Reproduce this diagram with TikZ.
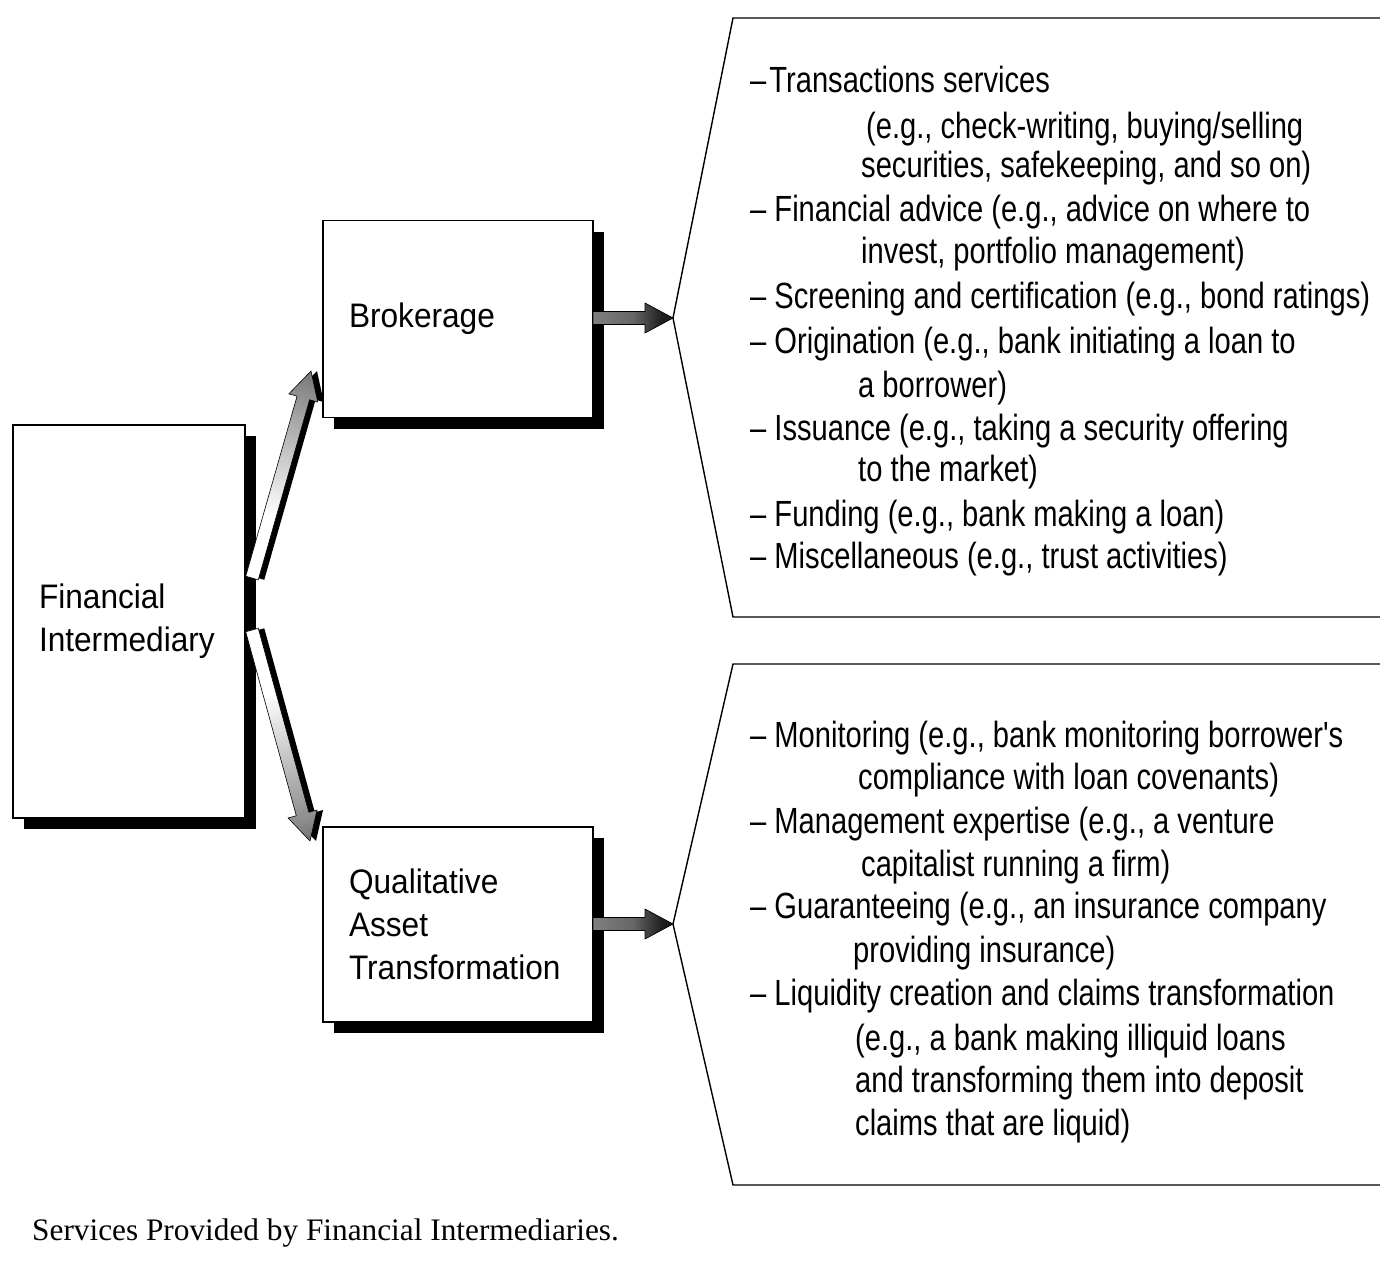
\documentclass[tikz,border=0pt]{standalone}
\usepackage{fontspec}
\setmainfont{Liberation Serif}
\newfontfamily\listfont{Liberation Sans}[FakeStretch=0.8]
\newfontfamily\boxfont{Liberation Sans}[FakeStretch=0.93]
\usetikzlibrary{shadows}

% shadings for the fat arrows
\pgfdeclarehorizontalshading{fadearrow}{100bp}{color(0bp)=(white); color(40bp)=(white); color(70bp)=(black!45); color(85bp)=(black!75); color(100bp)=(black!85)}
\pgfdeclarehorizontalshading{greyarrow}{100bp}{color(0bp)=(black!40); color(50bp)=(black!60); color(68bp)=(black!88); color(100bp)=(black!95)}

% fat arrow from #1 to #2, shading #3, shadow xshift #4
\newcommand{\fatarrow}[4]{%
  \pgfpointdiff{\pgfpointanchor{#1}{center}}{\pgfpointanchor{#2}{center}}%
  \pgfgetlastxy{\arrdx}{\arrdy}%
  \pgfmathsetmacro\arrang{atan2(\arrdy,\arrdx)}%
  \pgfmathsetmacro\arrlen{veclen(\arrdx,\arrdy)}%
  \pgfmathsetmacro\arrneck{\arrlen-28}%
  \begin{scope}[transform canvas={shift={(#1)},xshift=#4,rotate=\arrang}]
    \fill[black] (0pt,-6.5pt) -- (\arrneck pt,-6.5pt) -- (\arrneck pt,-15pt) -- (\arrlen pt,0pt)
      -- (\arrneck pt,15pt) -- (\arrneck pt,6.5pt) -- (0pt,6.5pt) -- cycle;
  \end{scope}
  \begin{scope}[transform canvas={shift={(#1)},rotate=\arrang}]
    \shade[shading=#3,draw=black,line width=0.6pt] (0pt,-6.5pt) -- (\arrneck pt,-6.5pt) -- (\arrneck pt,-15pt) -- (\arrlen pt,0pt)
      -- (\arrneck pt,15pt) -- (\arrneck pt,6.5pt) -- (0pt,6.5pt) -- cycle;
  \end{scope}}

\begin{document}
\begin{tikzpicture}[x=1pt,y=-1pt,
  box/.style={draw,line width=1.4pt,fill=white,align=left,inner xsep=26pt,
    font=\boxfont\fontsize{34}{43}\selectfont,
    drop shadow={opacity=1,fill=black,shadow xshift=11pt,shadow yshift=-11pt}},
  bracket/.style={line width=1.4pt,line join=miter},
  item/.style={anchor=base west,inner sep=0pt,font=\listfont\fontsize{36.4}{43}\selectfont}]
\useasboundingbox (0,0) rectangle (1380,1278);

% boxes
\node[box,text width=180pt,minimum height=393pt] (fi) at (129,621.5) {Financial\\Intermediary};
\node[box,text width=218pt,minimum height=197pt] (brok) at (458,319) {Brokerage};
\node[box,text width=218pt,minimum height=195pt] (qat) at (458,924.5) {Qualitative\\Asset\\Transformation};

% brackets
\coordinate (brokTip) at (673,318);
\coordinate (qatTip) at (673,924);
\draw[bracket] (1380,18) -- (733,18) -- (brokTip) -- (733,617) -- (1380,617);
\draw[bracket] (1380,664) -- (733,664) -- (qatTip) -- (733,1185) -- (1380,1185);

% arrows
\coordinate (fiUp) at (252,578);
\coordinate (brokIn) at (311,371);
\coordinate (fiDown) at (252,630);
\coordinate (qatIn) at (310,841);
\coordinate (brokOut) at (593,318);
\coordinate (qatOut) at (593,924);
\fatarrow{fiUp}{brokIn}{fadearrow}{6pt}
\fatarrow{fiDown}{qatIn}{fadearrow}{6pt}
\fatarrow{brokOut}{brokTip}{greyarrow}{0pt}
\fatarrow{qatOut}{qatTip}{greyarrow}{0pt}

% brokerage services
\node[item] (b1) at (750,92) {–\hspace{3pt}Transactions services};
\node[item] (b2) at (866,138) {(e.g., check-writing, buying/selling};
\node[item] (b3) at (861,177) {securities, safekeeping, and so on)};
\node[item] (b4) at (750,221) {– Financial advice (e.g., advice on where to};
\node[item] (b5) at (861,263) {invest, portfolio management)};
\node[item] (b6) at (750,308) {– Screening and certification (e.g., bond ratings)};
\node[item] (b7) at (750,353) {– Origination (e.g., bank initiating a loan to};
\node[item] (b8) at (858,397) {a borrower)};
\node[item] (b9) at (750,440) {– Issuance (e.g., taking a security offering};
\node[item] (b10) at (858,481) {to the market)};
\node[item] (b11) at (750,526) {– Funding (e.g., bank making a loan)};
\node[item] (b12) at (750,568) {– Miscellaneous (e.g., trust activities)};

% asset transformation services
\node[item] (q1) at (750,747) {– Monitoring (e.g., bank monitoring borrower's};
\node[item] (q2) at (858,789) {compliance with loan covenants)};
\node[item] (q3) at (750,833) {– Management expertise (e.g., a venture};
\node[item] (q4) at (861,876) {capitalist running a firm)};
\node[item] (q5) at (750,918) {– Guaranteeing (e.g., an insurance company};
\node[item] (q6) at (853,962) {providing insurance)};
\node[item] (q7) at (750,1005) {– Liquidity creation and claims transformation};
\node[item] (q8) at (855,1050) {(e.g., a bank making illiquid loans};
\node[item] (q9) at (855,1092) {and transforming them into deposit};
\node[item] (q10) at (855,1135) {claims that are liquid)};

% caption
\node[anchor=base west,inner sep=0pt,font=\fontsize{31.3}{36}\selectfont] (caption) at (32,1240) {Services Provided by Financial Intermediaries.};
\end{tikzpicture}
\end{document}
